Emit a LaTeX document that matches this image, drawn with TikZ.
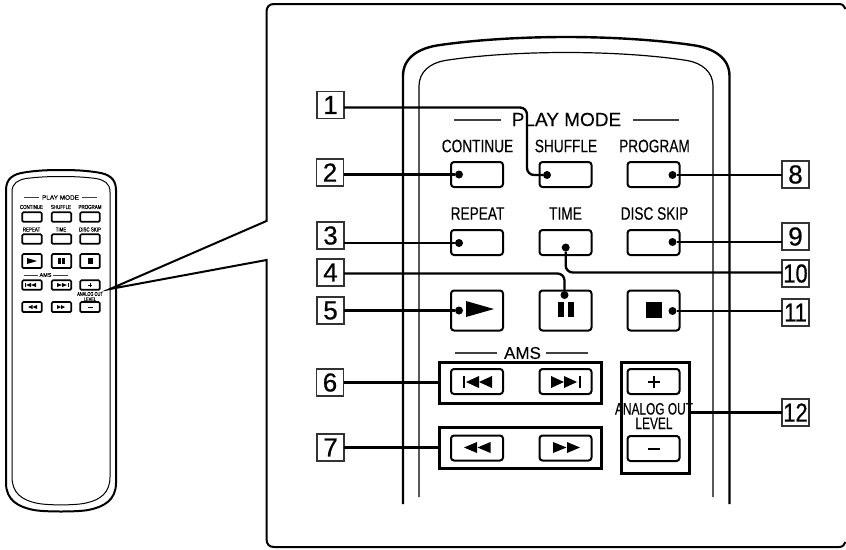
\documentclass[tikz,border=0pt]{standalone}
\usepackage{fontspec}
\setmainfont{Liberation Sans}[FakeBold=0.15]
\newfontfamily\condf[FakeStretch=0.76,FakeBold=0.2]{Liberation Sans}
\newfontfamily\condn[FakeStretch=0.84,FakeBold=0.6]{Liberation Sans}
\newfontfamily\condg[FakeStretch=0.72,FakeBold=0.2]{Liberation Sans}
\newfontfamily\numf[FakeBold=0.6]{Liberation Sans}
\begin{document}
\begin{tikzpicture}[x=1pt,y=-1pt,
  txt/.style={inner sep=0pt,outer sep=0pt,text=black},
  bigcap/.style={txt,font=\condf\fontsize{18}{18}\selectfont},
  smallcap/.style={txt,font=\condf\fontsize{5.8}{5.8}\selectfont},
  btn/.style={draw=black,line width=2pt,rounded corners=3pt,minimum width=52pt,inner sep=0pt,outer sep=0pt},
  sbtn/.style={draw=black,line width=1.7pt,rounded corners=1.2pt,minimum width=19.5pt,inner sep=0pt,outer sep=0pt},
  group/.style={draw=black,line width=3pt,inner sep=0pt,outer sep=0pt},
  labbox/.style={draw=black!80,line width=1.1pt,minimum width=27pt,minimum height=27pt,inner sep=0pt,outer sep=0pt,font=\numf\fontsize{26}{26}\selectfont},
  labboxw/.style={labbox,font=\condn\fontsize{26}{26}\selectfont},
  dotm/.style={circle,fill=black,minimum size=8pt,inner sep=0pt,outer sep=0pt},
  conn/.style={draw=black,line width=2.3pt,rounded corners=7pt},
  rule/.style={draw=black!75,line width=1.1pt},
  srule/.style={draw=black!75,line width=.7pt}]
\useasboundingbox (0,0) rectangle (846,549);

% frame with wedge
\draw[line width=2pt,line join=miter]
  (845.5,9) .. controls (844.5,6) and (842.5,4) .. (839,4) -- (274,4)
  .. controls (269,4) and (266.5,7) .. (266.5,12) -- (266.5,221) -- (110,289) -- (266.5,260) -- (266.5,539)
  .. controls (266.5,544) and (269,547) .. (274,547) -- (839,547)
  .. controls (842.5,547) and (844.5,545) .. (845.5,542);

% large remote
\draw[line width=2.4pt] (403,504) -- (403,76) .. controls (403,58) and (418,48) .. (440,45)
  .. controls (475,40) and (520,37) .. (566,37) .. controls (612,37) and (657,40) .. (692,45)
  .. controls (714,48) and (729.5,58) .. (729.5,76) -- (729.5,504);
\draw[line width=1.2pt] (419,497) -- (419,86) .. controls (419,72) and (430,63) .. (445,60.5)
  .. controls (480,55) and (525,52.5) .. (566,52.5) .. controls (607,52.5) and (652,55) .. (687,60.5)
  .. controls (702,63) and (713,72) .. (713,86) -- (713,497);

% small remote
\draw[line width=2pt] (6,190) .. controls (6,178) and (14,174) .. (24,172.5)
  .. controls (36,170.5) and (48,170) .. (61,170) .. controls (74,170) and (86,170.5) .. (98,172.5)
  .. controls (108,174) and (116,178) .. (116,190) -- (116,483)
  .. controls (116,500) and (104,507) .. (88,510) .. controls (78,512) and (44,512) .. (34,510)
  .. controls (18,507) and (6,500) .. (6,483) -- cycle;
\draw[line width=1pt] (12,192) .. controls (12,183) and (18,180) .. (26,178.5)
  .. controls (38,177) and (48,176.5) .. (61,176.5) .. controls (74,176.5) and (84,177) .. (96,178.5)
  .. controls (104,180) and (110,183) .. (110,192) -- (110,477)
  .. controls (110,493) and (100,500) .. (86,503) .. controls (76,505.5) and (46,505.5) .. (36,503)
  .. controls (22,500) and (12,493) .. (12,477) -- cycle;

% large texts
\node[txt,font=\fontsize{19}{19}\selectfont] (tPlay) at (566.5,119.5) {PLAY MODE};
\draw[rule] (454,120) -- (501,120);
\draw[rule] (633,120) -- (679,120);
\node[bigcap] (tCont) at (477.5,146) {CONTINUE};
\node[bigcap] (tShuf) at (566,146) {SHUFFLE};
\node[bigcap] (tProg) at (654.5,146) {PROGRAM};
\node[bigcap] (tRep) at (477.5,213.5) {REPEAT};
\node[bigcap] (tTime) at (565.5,213.5) {TIME};
\node[bigcap] (tDisc) at (654.5,213.5) {DISC SKIP};
\node[txt,font=\fontsize{17}{17}\selectfont] (tAms) at (522.5,353) {AMS};
\draw[rule] (455,353) -- (497,353);
\draw[rule] (546,353) -- (588,353);
\node[txt,align=center,font=\condg\fontsize{16.5}{14.5}\selectfont] (tAna) at (654,416) {ANALOG OUT\\LEVEL};

% large buttons
\node[btn,minimum height=25pt] (bCont) at (477,174.5) {};
\node[btn,minimum height=25pt] (bShuf) at (565.5,174.5) {};
\node[btn,minimum height=25pt] (bProg) at (653.5,174.5) {};
\node[btn,minimum height=25pt] (bRep) at (477,242.5) {};
\node[btn,minimum height=25pt] (bTime) at (565.5,242.5) {};
\node[btn,minimum height=25pt] (bDisc) at (653.5,242.5) {};
\node[btn,minimum height=40pt] (bPlay) at (477,310.5) {};
\node[btn,minimum height=40pt] (bPause) at (565.5,310.5) {};
\node[btn,minimum height=40pt] (bStop) at (653.5,310.5) {};
\node[group,minimum width=162pt,minimum height=41pt] (gAms) at (520,382.5) {};
\node[group,minimum width=162pt,minimum height=41pt] (gSeek) at (520,447.5) {};
\node[group,minimum width=68pt,minimum height=111pt] (gLevel) at (655,417.5) {};
\node[btn,minimum height=25pt] (bPrev) at (477,381.5) {};
\node[btn,minimum height=25pt] (bNext) at (565.5,381.5) {};
\node[btn,minimum height=25pt] (bRew) at (477,448) {};
\node[btn,minimum height=25pt] (bFf) at (565.5,448) {};
\node[btn,minimum height=25pt] (bPlus) at (653.5,381.5) {};
\node[btn,minimum height=25pt] (bMinus) at (653.5,448.5) {};

% large symbols
\fill (466,301) -- (494,309) -- (466,317) -- cycle;
\fill (557.7,302) rectangle (564.3,317);
\fill (567.7,302) rectangle (574,317);
\fill (646,302) rectangle (662,317.5);
\fill (462.5,376) rectangle (464.5,388);
\fill (479,376) -- (466,382) -- (479,388) -- cycle;
\fill (492,376) -- (479,382) -- (492,388) -- cycle;
\fill (551,376) -- (564,382) -- (551,388) -- cycle;
\fill (564,376) -- (577,382) -- (564,388) -- cycle;
\fill (578.5,376) rectangle (580.5,388);
\fill (477,442) -- (464,447.5) -- (477,453) -- cycle;
\fill (490.5,442) -- (477.5,447.5) -- (490.5,453) -- cycle;
\fill (553,442) -- (566.5,447.5) -- (553,453) -- cycle;
\fill (567,442) -- (580,447.5) -- (567,453) -- cycle;
\draw[line width=1.3pt] (648,382) -- (660,382) (654,376) -- (654,388);
\draw[line width=2pt] (648,449) -- (660,449);

% number boxes
\node[labbox] (n1) at (330.5,105) {1};
\node[labbox] (n2) at (330,172.5) {2};
\node[labbox] (n3) at (330.5,235.5) {3};
\node[labbox] (n4) at (330.5,272.5) {4};
\node[labbox] (n5) at (330.5,310.5) {5};
\node[labbox] (n6) at (330,382.5) {6};
\node[labbox] (n7) at (330.5,447.5) {7};
\node[labbox] (n8) at (795.5,174.5) {8};
\node[labbox] (n9) at (795.5,236.5) {9};
\node[labboxw] (n10) at (795.5,273.5) {10};
\node[labboxw] (n11) at (795.5,312.5) {11};
\node[labboxw] (n12) at (795.5,412.5) {12};

% dots
\node[dotm] (d1) at (547,175) {};
\node[dotm] (d2) at (459,174.5) {};
\node[dotm] (d3) at (459,243) {};
\node[dotm] (d4) at (564.5,295) {};
\node[dotm] (d5) at (459,310.5) {};
\node[dotm] (d8) at (672.5,175) {};
\node[dotm] (d9) at (672.5,242) {};
\node[dotm] (d10) at (565.7,247.5) {};
\node[dotm] (d11) at (672.5,311) {};
\coordinate (c1) at (527,107.5);
\coordinate (c4) at (564.5,273.5);
\coordinate (c10) at (565.7,272.5);

% connectors
\draw[conn] (n1.east |- c1) -- (c1) -- (c1 |- d1) -- (d1);
\draw[conn] (n2.east |- d2) -- (d2);
\draw[conn] (n3.east |- d3) -- (d3);
\draw[conn] (n4.east |- c4) -- (c4) -- (d4);
\draw[conn] (n5.east |- d5) -- (d5);
\draw[conn] (n6.east) -- (gAms.west);
\draw[conn] (n7.east) -- (gSeek.west);
\draw[conn] (d8) -- (n8.west |- d8);
\draw[conn] (d9) -- (n9.west |- d9);
\draw[conn] (d10) -- (c10) -- (n10.west |- c10);
\draw[conn] (d11) -- (n11.west |- d11);
\draw[conn] (gLevel.east |- n12.west) -- (n12.west);

% small remote contents
\node[txt,font=\fontsize{6.4}{6.4}\selectfont] (sPlay) at (60.5,197.5) {PLAY MODE};
\draw[srule] (24,197.5) -- (39,197.5);
\draw[srule] (82,197.5) -- (97,197.5);
\node[smallcap] (sCont) at (31.5,207) {CONTINUE};
\node[smallcap] (sShuf) at (61,207) {SHUFFLE};
\node[smallcap] (sProg) at (90,207) {PROGRAM};
\node[smallcap] (sRep) at (31.5,229.5) {REPEAT};
\node[smallcap] (sTime) at (61,229.5) {TIME};
\node[smallcap] (sDisc) at (90,229.5) {DISC SKIP};
\node[txt,font=\fontsize{5.5}{5.5}\selectfont] (sAms) at (45.5,275) {AMS};
\draw[srule] (24,275) -- (38,275);
\draw[srule] (53,275) -- (68,275);
\node[txt,align=center,font=\condg\fontsize{5.4}{5.2}\selectfont] (sAna) at (90,296.5) {ANALOG OUT\\LEVEL};

\node[sbtn,minimum height=9.5pt] (s1) at (32,217) {};
\node[sbtn,minimum height=9.5pt] (s2) at (61.5,217) {};
\node[sbtn,minimum height=9.5pt] (s3) at (90,217) {};
\node[sbtn,minimum height=9.5pt] (s4) at (32,239) {};
\node[sbtn,minimum height=9.5pt] (s5) at (61.5,239) {};
\node[sbtn,minimum height=9.5pt] (s6) at (90,239) {};
\node[sbtn,minimum height=14pt] (s7) at (32,261) {};
\node[sbtn,minimum height=14pt] (s8) at (61.5,261) {};
\node[sbtn,minimum height=14pt] (s9) at (90,261) {};
\node[sbtn,minimum height=9.5pt] (s10) at (32,285) {};
\node[sbtn,minimum height=9.5pt] (s11) at (61.5,285) {};
\node[sbtn,minimum height=9.5pt] (s12) at (90,285) {};
\node[sbtn,minimum height=10pt] (s13) at (32,307) {};
\node[sbtn,minimum height=10pt] (s14) at (61.5,307) {};
\node[sbtn,minimum height=10pt] (s15) at (90,307) {};

\fill (27,258) -- (37,261) -- (27,264) -- cycle;
\fill (58,258) rectangle (60.5,264);
\fill (62,258) rectangle (64.5,264);
\fill (87.5,258) rectangle (93,264);
\fill (25,283) rectangle (25.7,287);
\fill (31,283) -- (26,285) -- (31,287) -- cycle;
\fill (36,283) -- (31,285) -- (36,287) -- cycle;
\fill (57,283) -- (62,285) -- (57,287) -- cycle;
\fill (62,283) -- (67,285) -- (62,287) -- cycle;
\fill (67.5,283) rectangle (68.2,287);
\fill (32.5,305) -- (28,307) -- (32.5,309) -- cycle;
\fill (37,305) -- (32.5,307) -- (37,309) -- cycle;
\fill (57,305) -- (61,307) -- (57,309) -- cycle;
\fill (61,305) -- (65,307) -- (61,309) -- cycle;
\draw[line width=.5pt] (88,285) -- (92,285) (90,283) -- (90,287);
\draw[line width=.8pt] (88,307) -- (93,307);
\end{tikzpicture}
\end{document}
